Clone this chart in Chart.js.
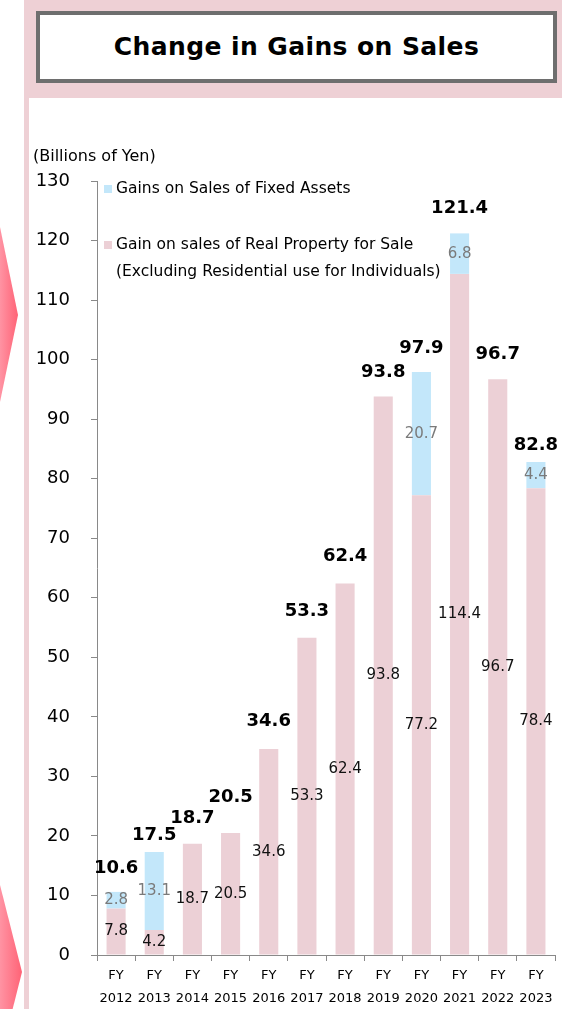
<!DOCTYPE html>
<html>
<head>
<meta charset="utf-8">
<script src="https://cdn.jsdelivr.net/npm/chart.js@4.4.0/dist/chart.umd.min.js"></script>
<style>
  body { margin:0; width:562px; height:1009px; background:#fff; position:relative; overflow:hidden; font-family:"DejaVu Sans", sans-serif; }
  #frame { position:absolute; left:24px; top:0; width:538px; height:1009px; background:#eed0d5; }
  #title { position:absolute; left:36px; top:11px; width:513px; height:64px; border:4px solid #6e6e6e; background:#fff;
           font-weight:bold; font-size:25px; letter-spacing:0.4px; text-align:center; line-height:64px; color:#000; }
  #arrows { position:absolute; left:0; top:0; }
  #wrap { position:absolute; left:29px; top:98px; width:533px; height:911px; background:#fff; }
</style>
</head>
<body>
<div id="frame"></div>
<div id="title">Change in Gains on Sales</div>
<svg id="arrows" width="24" height="1009">
  <defs>
    <linearGradient id="ag" x1="0" y1="0" x2="1" y2="0">
      <stop offset="0" stop-color="#ff93a3"/>
      <stop offset="1" stop-color="#ff6376"/>
    </linearGradient>
  </defs>
  <polygon points="0,227 18,315 0,402" fill="url(#ag)"/>
  <polygon points="0,885 22,972 0,1059" fill="url(#ag)"/>
</svg>
<div id="wrap"><canvas id="mycanvas"></canvas></div>
<script>
var years = ['2012','2013','2014','2015','2016','2017','2018','2019','2020','2021','2022','2023'];
var realProperty = [7.8, 4.2, 18.7, 20.5, 34.6, 53.3, 62.4, 93.8, 77.2, 114.4, 96.7, 78.4];
var fixedAssets  = [2.8, 13.1, null, null, null, null, null, null, 20.7, 6.8, null, 4.4];
var totals       = [10.6, 17.5, 18.7, 20.5, 34.6, 53.3, 62.4, 93.8, 97.9, 121.4, 96.7, 82.8];
var yMax = 130;

var unitText = '(Billions of Yen)';
// how far each total label sits above its bar (px)
var totalLift = [24, 15, 25, 36, 28, 26, 27, 24, 24, 24, 25, 17];

var pink = '#ecd0d6';
var blue = '#c3e7fa';
var axisGrey = '#898989';

// draws the value labels inside the bars and the bold totals on top
var valueLabels = {
  id: 'valueLabels',
  afterDatasetsDraw: function(chart) {
    var ctx = chart.ctx;
    ctx.save();
    ctx.textAlign = 'center';
    ctx.textBaseline = 'middle';
    chart.data.datasets.forEach(function(ds, di) {
      var meta = chart.getDatasetMeta(di);
      meta.data.forEach(function(bar, i) {
        if (ds.data[i] == null) return;
        ctx.font = '15px "DejaVu Sans"';
        ctx.fillStyle = di === 0 ? '#111' : '#7a7a7a';
        ctx.fillText(ds.data[i].toFixed(1), bar.x, (bar.y + bar.base) / 2);
      });
    });
    var yScale = chart.scales.y;
    var m0 = chart.getDatasetMeta(0);
    ctx.font = 'bold 18px "DejaVu Sans"';
    ctx.fillStyle = '#000';
    totals.forEach(function(t, i) {
      var x = m0.data[i].x;
      ctx.fillText(t.toFixed(1), x, yScale.getPixelForValue(t) - totalLift[i]);
    });
    ctx.restore();
  }
};

// legend in the upper left plus the unit caption
var sideLegend = {
  id: 'sideLegend',
  afterDraw: function(chart) {
    var ctx = chart.ctx;
    ctx.save();
    ctx.textBaseline = 'middle';
    ctx.textAlign = 'left';
    ctx.fillStyle = '#000';
    ctx.font = '16px "DejaVu Sans"';
    ctx.fillText(unitText, 4, 59);

    ctx.fillStyle = blue;
    ctx.fillRect(75, 87, 8, 8);
    ctx.fillStyle = pink;
    ctx.fillRect(75, 143, 8, 8);

    ctx.font = '15.5px "DejaVu Sans"';
    ctx.fillStyle = '#000';
    ctx.fillText(chart.data.datasets[1].label, 87, 91);
    ctx.fillText(chart.data.datasets[0].label[0], 87, 147);
    ctx.fillText(chart.data.datasets[0].label[1], 87, 174);
    ctx.restore();
  }
};

var chartdata = {
  labels: years.map(function(y) { return ['FY', y]; }),
  datasets: [
    {
      label: ['Gain on sales of Real Property for Sale', '(Excluding Residential use for Individuals)'],
      backgroundColor: pink,
      data: realProperty
    },
    {
      label: 'Gains on Sales of Fixed Assets',
      backgroundColor: blue,
      data: fixedAssets
    }
  ]
};

new Chart(document.getElementById('mycanvas'), {
  type: 'bar',
  data: chartdata,
  plugins: [valueLabels, sideLegend],
  options: {
    responsive: true,
    maintainAspectRatio: false,
    animation: false,
    datasets: { bar: { categoryPercentage: 1, barPercentage: 0.5 } },
    layout: { padding: { top: 83, right: 7, left: 0, bottom: 0 } },
    plugins: { legend: { display: false }, tooltip: { enabled: false } },
    scales: {
      x: {
        stacked: true,
        afterFit: function(s) { s.height = 54; },
        grid: { drawOnChartArea: false, drawTicks: true, tickLength: 6, color: axisGrey, offset: true },
        border: { color: axisGrey, width: 1 },
        ticks: { color: '#000', padding: 4, maxRotation: 0, autoSkip: false, font: { family: 'DejaVu Sans', size: 13, lineHeight: 1.7 } }
      },
      y: {
        stacked: true,
        min: 0,
        max: yMax,
        afterFit: function(s) { s.width = 68; },
        grid: { drawOnChartArea: false, drawTicks: true, tickLength: 6, color: axisGrey },
        border: { color: axisGrey, width: 1 },
        ticks: { stepSize: 10, color: '#000', padding: 21, font: { family: 'DejaVu Sans', size: 18 } }
      }
    }
  }
});
</script>
</body>
</html>
